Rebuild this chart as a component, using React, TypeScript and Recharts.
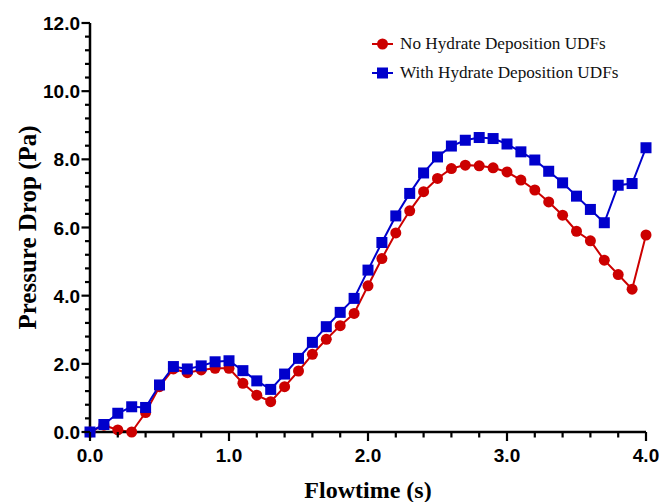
import React from 'react';
import { LineChart, Line, XAxis, YAxis } from 'recharts';

const flowtime = [0, 0.1, 0.2, 0.3, 0.4, 0.5, 0.6, 0.7, 0.8, 0.9, 1.0, 1.1, 1.2, 1.3, 1.4, 1.5, 1.6, 1.7, 1.8, 1.9, 2.0, 2.1, 2.2, 2.3, 2.4, 2.5, 2.6, 2.7, 2.8, 2.9, 3.0, 3.1, 3.2, 3.3, 3.4, 3.5, 3.6, 3.7, 3.8, 3.9, 4.0];
const noHydrate = [0, 0.2, 0.06, 0.0, 0.57, 1.33, 1.85, 1.74, 1.82, 1.87, 1.87, 1.43, 1.08, 0.89, 1.33, 1.79, 2.28, 2.72, 3.12, 3.48, 4.29, 5.09, 5.84, 6.49, 7.05, 7.44, 7.73, 7.83, 7.81, 7.75, 7.63, 7.39, 7.10, 6.75, 6.36, 5.89, 5.61, 5.04, 4.62, 4.19, 5.78];
const withHydrate = [0, 0.22, 0.55, 0.74, 0.72, 1.38, 1.92, 1.85, 1.94, 2.06, 2.09, 1.80, 1.50, 1.25, 1.70, 2.16, 2.63, 3.09, 3.51, 3.92, 4.75, 5.56, 6.34, 7.0, 7.60, 8.07, 8.39, 8.56, 8.64, 8.61, 8.45, 8.22, 7.98, 7.65, 7.31, 6.92, 6.53, 6.14, 7.24, 7.29, 8.34];
const xTicks = [0, 0.2, 0.4, 0.6, 0.8, 1.0, 1.2, 1.4, 1.6, 1.8, 2.0, 2.2, 2.4, 2.6, 2.8, 3.0, 3.2, 3.4, 3.6, 3.8, 4.0];
const yTicks = [0, 0.4, 0.8, 1.2, 1.6, 2, 2.4, 2.8, 3.2, 3.6, 4, 4.4, 4.8, 5.2, 5.6, 6, 6.4, 6.8, 7.2, 7.6, 8, 8.4, 8.8, 9.2, 9.6, 10, 10.4, 10.8, 11.2, 11.6, 12];
const seriesNames = ['No Hydrate Deposition UDFs', 'With Hydrate Deposition UDFs'];

const RED = '#cc0000';
const BLUE = '#0000cc';

const data = flowtime.map((t, i) => ({ t, a: noHydrate[i], b: withHydrate[i] }));

const isMult = (v: number, m: number) => Math.abs(v / m - Math.round(v / m)) < 1e-6;

const XTick = (props: any) => {
  const { x, y, payload } = props;
  const major = isMult(payload.value, 1);
  return (
    <g>
      <line x1={x} x2={x} y1={y} y2={y + (major ? 9 : 5.5)} stroke="#000" strokeWidth={2.2} />
      {major && (
        <text x={x} y={y + 30} textAnchor="middle" fontFamily="'Liberation Sans', Arial, sans-serif" fontWeight="bold" fontSize={19} fill="#000">
          {payload.value.toFixed(1)}
        </text>
      )}
    </g>
  );
};

const YTick = (props: any) => {
  const { x, y, payload } = props;
  const major = isMult(payload.value, 2);
  return (
    <g>
      <line x1={x} x2={x - (major ? 8.5 : 5)} y1={y} y2={y} stroke="#000" strokeWidth={2.2} />
      {major && (
        <text x={x - 10} y={y + 7} textAnchor="end" fontFamily="'Liberation Sans', Arial, sans-serif" fontWeight="bold" fontSize={19} fill="#000">
          {payload.value.toFixed(1)}
        </text>
      )}
    </g>
  );
};

const SquareDot = (props: any) => {
  const { cx, cy, index } = props;
  if (cx == null || cy == null) return <g key={index} />;
  return <rect key={index} x={cx - 5.5} y={cy - 5.5} width={11} height={11} fill={BLUE} />;
};

const YTitle = (props: any) => {
  const vb = props.viewBox || {};
  const cx = vb.x + 36;
  const cy = vb.y + vb.height / 2;
  return (
    <text x={cx} y={cy} transform={`rotate(-90, ${cx}, ${cy})`} textAnchor="middle" fontFamily="'Liberation Serif', 'Times New Roman', serif" fontWeight="bold" fontSize={25} fill="#000">
      Pressure Drop (Pa)
    </text>
  );
};

const XTitle = (props: any) => {
  const vb = props.viewBox || {};
  return (
    <text x={vb.x + vb.width / 2} y={vb.y + 66} textAnchor="middle" fontFamily="'Liberation Serif', 'Times New Roman', serif" fontWeight="bold" fontSize={24} fill="#000">
      Flowtime (s)
    </text>
  );
};

const LegendBox = () => (
  <div style={{ position: 'absolute', left: 372, top: 30, fontFamily: "'Liberation Serif', 'Times New Roman', serif", fontSize: 17.2, color: '#111' }}>
    {seriesNames.map((name, i) => (
      <div key={name} style={{ display: 'flex', alignItems: 'center', height: 28.7 }}>
        <svg width={28} height={14} style={{ display: 'block' }}>
          <line x1={0} x2={21} y1={7} y2={7} stroke={i === 0 ? RED : BLUE} strokeWidth={2} />
          {i === 0 ? <circle cx={10.5} cy={7} r={5.5} fill={RED} /> : <rect x={5} y={1.5} width={11} height={11} fill={BLUE} />}
        </svg>
        <span style={{ whiteSpace: 'nowrap' }}>{name}</span>
      </div>
    ))}
  </div>
);

export default function App() {
  return (
    <div style={{ position: 'absolute', left: 0, top: 0, width: 660, height: 502, background: '#fff' }}>
      <LineChart width={660} height={502} data={data} margin={{ top: 23, right: 14, left: 0, bottom: 0 }}>
        <XAxis
          dataKey="t"
          type="number"
          domain={[0, 4]}
          ticks={xTicks}
          interval={0}
          height={70}
          tickSize={0}
          tickMargin={0}
          tickLine={false}
          tick={<XTick />}
          axisLine={{ stroke: '#000', strokeWidth: 2.5 }}
          label={<XTitle />}
        />
        <YAxis
          type="number"
          domain={[0, 12]}
          ticks={yTicks}
          interval={0}
          width={90}
          tickSize={0}
          tickMargin={0}
          tickLine={false}
          tick={<YTick />}
          axisLine={{ stroke: '#000', strokeWidth: 2.5 }}
          label={<YTitle />}
        />
        <Line dataKey="a" stroke={RED} strokeWidth={2} dot={{ r: 5.5, fill: RED, stroke: 'none' }} activeDot={false} isAnimationActive={false} />
        <Line dataKey="b" stroke={BLUE} strokeWidth={2} dot={<SquareDot />} activeDot={false} isAnimationActive={false} />
      </LineChart>
      <LegendBox />
    </div>
  );
}
